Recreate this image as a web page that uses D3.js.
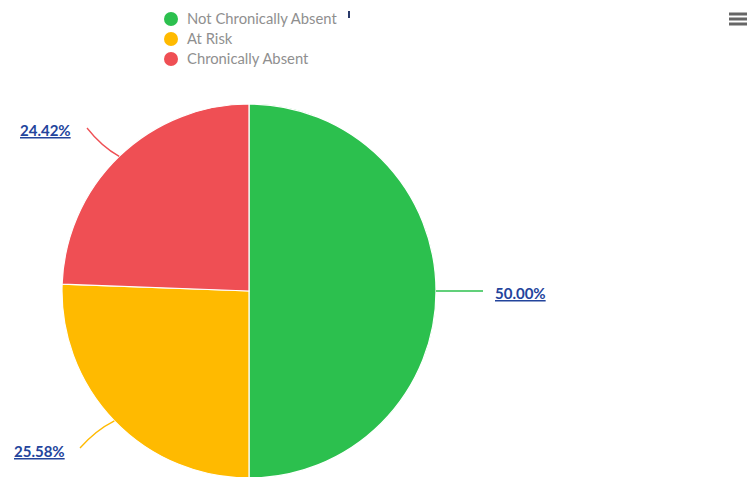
<!DOCTYPE html>
<html><head><meta charset="utf-8">
<script src="https://cdn.jsdelivr.net/npm/d3@7"></script>
<style>
html,body{margin:0;padding:0;background:#fff;}
svg{display:block;font-family:"Source Sans Pro","Lato","Open Sans",sans-serif;}
</style></head>
<body>
<svg id="chart" width="747" height="477"></svg>
<script>
const categories = ["Not Chronically Absent", "At Risk", "Chronically Absent"];
const values = [50.00, 25.58, 24.42];
const colors = ["#2cc04e", "#ffba00", "#ef4f54"];
const labelText = ["50.00%", "25.58%", "24.42%"];

const svg = d3.select("#chart");
const cx = 249, cy = 291, r = 187;

const pie = d3.pie().sort(null).value(d => d)(values);
const arc = d3.arc().innerRadius(0).outerRadius(r);

const g = svg.append("g").attr("transform", `translate(${cx},${cy})`);
g.selectAll("path.slice").data(pie).join("path")
  .attr("class", "slice")
  .attr("d", arc)
  .attr("fill", (d, i) => colors[i])
  .attr("stroke", "#fff").attr("stroke-width", 1.2);

// connectors & labels
const labelPos = [
  {end: [234, 0], tx: 246, ty: 8},
  {end: [-169, 157], tx: -235, ty: 166},
  {end: [-162, -163], tx: -229, ty: -155}
];
pie.forEach((d, i) => {
  const a = (d.startAngle + d.endAngle) / 2;
  const sx = r * Math.sin(a), sy = -r * Math.cos(a);
  const p = labelPos[i];
  const ex = p.end[0], ey = p.end[1];
  let path;
  if (i === 0) path = `M${sx},${sy}L${ex},${ey}`;
  else {
    const mx = sx + (ex - sx) * 0.55, my = sy + (ey - sy) * 0.35;
    path = `M${sx},${sy}Q${mx},${my} ${ex},${ey}`;
  }
  g.append("path").attr("d", path).attr("fill", "none")
    .attr("stroke", colors[i]).attr("stroke-width", 1.3);
  g.append("text").attr("x", p.tx).attr("y", p.ty)
    .attr("font-size", 15).attr("font-weight", "bold")
    .attr("fill", "#23449c")
    .attr("text-decoration", "underline")
    .text(labelText[i]);
});

// legend
const legend = svg.append("g");
categories.forEach((c, i) => {
  const y = 19 + i * 20;
  legend.append("circle").attr("cx", 171).attr("cy", y).attr("r", 7).attr("fill", colors[i]);
  legend.append("text").attr("x", 187).attr("y", y + 5)
    .attr("font-size", 14.8).attr("fill", "#8f8f8f").text(c);
});
// small mark
svg.append("rect").attr("x", 348).attr("y", 11).attr("width", 2).attr("height", 7).attr("fill", "#2a3a6a");

// hamburger menu
[14, 19, 24].forEach(y => {
  svg.append("rect").attr("x", 729).attr("y", y - 1.5).attr("width", 18).attr("height", 3).attr("fill", "#666");
});
</script>
</body></html>
